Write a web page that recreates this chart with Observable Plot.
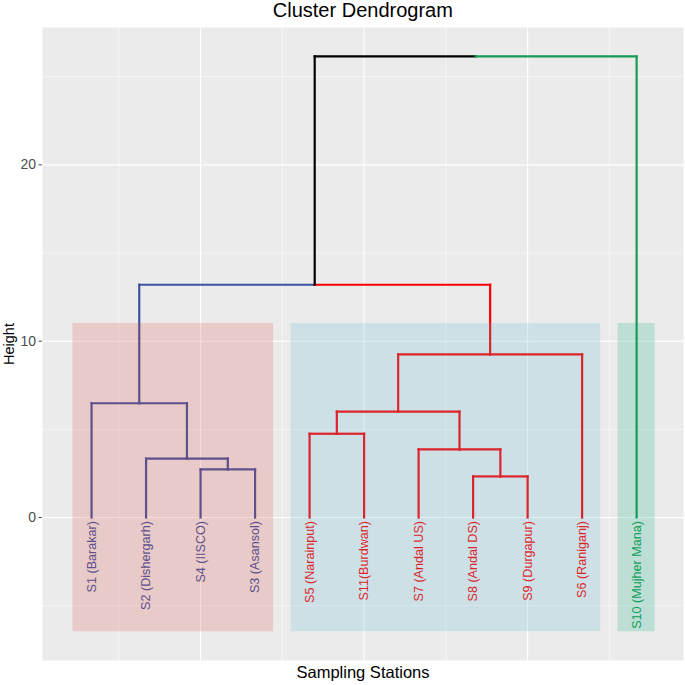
<!DOCTYPE html>
<html>
<head>
<meta charset="utf-8">
<script src="https://cdn.jsdelivr.net/npm/d3@7"></script>
<script src="https://cdn.jsdelivr.net/npm/@observablehq/plot@0.6"></script>
<style>
  body { margin: 0; background: #ffffff; }
  #title { box-sizing: border-box; width: 685px; height: 27px; padding-left: 40.7px; text-align: center;
    font-family: "Liberation Sans", Arial, sans-serif; font-size: 20px; line-height: 21px; color: #000; }
</style>
</head>
<body>
<div id="title">Cluster Dendrogram</div>
<div id="chart"></div>
<script>
// Leaves in dendrogram order
const leafLabels = ["S1 (Barakar)", "S2 (Dishergarh)", "S4 (IISCO)", "S3 (Asansol)", "S5 (Narainput)",
  "S11(Burdwan)", "S7 (Andal US)", "S8 (Andal DS)", "S9 (Durgapur)", "S6 (Raniganj)", "S10 (Mujher Mana)"];
const leafCluster = [0, 0, 0, 0, 1, 1, 1, 1, 1, 1, 2];

// Merges (hclust style): negative = leaf (1-based position in order), positive = earlier merge
const mergeLeft  = [-8, -3, -2, -7, -5, 5, -1, 6, 7, 9];
const mergeRight = [-9, -4,  2,  1, -6, 4,  3, -10, 8, -11];
const mergeHeight = [2.33, 2.73, 3.34, 3.86, 4.75, 6.01, 6.48, 9.25, 13.2, 26.15];

// Cluster colours and shaded rectangles
const lineColors = ["#4052A2", "#FF0000", "#169B53"];
const rectColors = ["#DC463C", "#50B4D2", "#00AA78"];
const rectTop = 11.0, rectBottom = -6.48;

// Axis ticks
const yTicks = [0, 10, 20];
const yMinor = [-5, 5, 15, 25];
const xMajor = [3, 6, 9];
const xMinor = [1.5, 4.5, 7.5, 10.5];

// Build node table
const leaves = leafLabels.map((name, i) => ({name, x: i + 1, h: 0, cluster: leafCluster[i]}));
const merges = [];
function node(id) { return id < 0 ? leaves[-id - 1] : merges[id - 1]; }
const segments = [];
mergeLeft.forEach((l, j) => {
  const a = node(l), b = node(mergeRight[j]);
  const m = {x: (a.x + b.x) / 2, h: mergeHeight[j], cluster: a.cluster === b.cluster ? a.cluster : null};
  merges.push(m);
  for (const c of [a, b]) {
    const col = c.cluster == null ? "#000000" : lineColors[c.cluster];
    segments.push({x1: m.x, y1: m.h, x2: c.x, y2: m.h, color: col});
    segments.push({x1: c.x, y1: m.h, x2: c.x, y2: c.h, color: col});
  }
});
const rects = [0, 1, 2].map(k => {
  const xs = leaves.filter(d => d.cluster === k).map(d => d.x);
  return {x1: d3.min(xs) - 0.34, x2: d3.max(xs) + 0.34, y1: rectBottom, y2: rectTop, fill: rectColors[k]};
});

const plot = Plot.plot({
  width: 685,
  height: 658,
  marginTop: 0,
  marginBottom: 25,
  marginLeft: 42,
  marginRight: 2,
  style: {fontFamily: "'Liberation Sans', Arial, sans-serif", background: "#ffffff"},
  x: {domain: [0.1, 11.86], axis: null},
  y: {domain: [-8.11, 27.79], axis: null},
  marks: [
    Plot.frame({fill: "#EBEBEB", stroke: null}),
    Plot.ruleY(yMinor, {stroke: "#ffffff", strokeWidth: 0.55}),
    Plot.ruleX(xMinor, {stroke: "#ffffff", strokeWidth: 0.55}),
    Plot.ruleY(yTicks, {stroke: "#ffffff", strokeWidth: 1.1}),
    Plot.ruleX(xMajor, {stroke: "#ffffff", strokeWidth: 1.1}),
    Plot.link(segments, {x1: "x1", y1: "y1", x2: "x2", y2: "y2", stroke: d => d.color,
      strokeWidth: 2.2, strokeLinecap: "square", markerStart: null, markerEnd: null}),
    Plot.text(leaves, {x: "x", y: 0, text: "name", rotate: -90, textAnchor: "end", lineAnchor: "middle",
      dy: 3.5, fontSize: 12.6, fill: d => lineColors[d.cluster]}),
    Plot.rect(rects, {x1: "x1", x2: "x2", y1: "y1", y2: "y2", fill: "fill", fillOpacity: 0.2}),
    Plot.axisY({ticks: yTicks, tickSize: 3.5, tickPadding: 3, fontSize: 14, color: "#4D4D4D", label: null}),
    Plot.text(["Height"], {frameAnchor: "left", dx: -33, rotate: -90, textAnchor: "middle", lineAnchor: "middle",
      fontSize: 14.5, fill: "#000000"}),
    Plot.text(["Sampling Stations"], {frameAnchor: "bottom", dy: 12.7, textAnchor: "middle", lineAnchor: "middle",
      fontSize: 16.5, fill: "#000000"})
  ]
});
document.getElementById("chart").appendChild(plot);
</script>
</body>
</html>
